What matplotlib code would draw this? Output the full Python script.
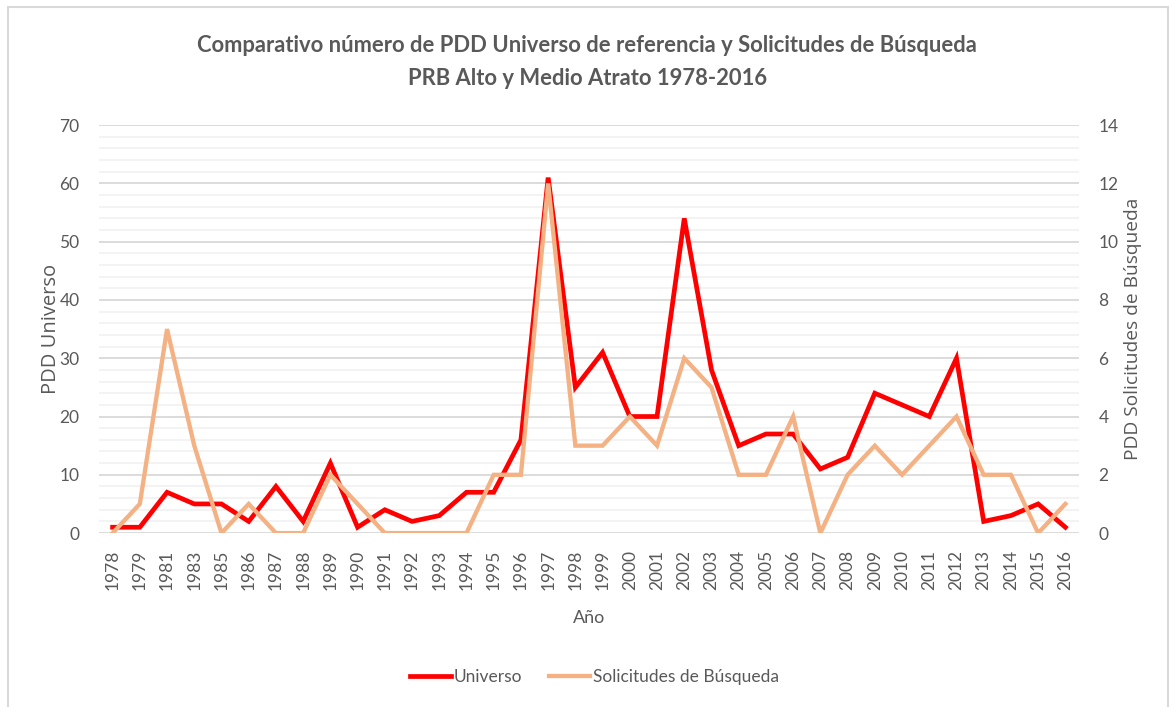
import matplotlib.pyplot as plt
from matplotlib.patches import Rectangle

plt.rcParams['font.family'] = ['Lato', 'DejaVu Sans']

years = ['1978', '1979', '1981', '1983', '1985', '1986', '1987', '1988', '1989',
         '1990', '1991', '1992', '1993', '1994', '1995', '1996', '1997', '1998',
         '1999', '2000', '2001', '2002', '2003', '2004', '2005', '2006', '2007',
         '2008', '2009', '2010', '2011', '2012', '2013', '2014', '2015', '2016']
universo = [1, 1, 7, 5, 5, 2, 8, 2, 12, 1, 4, 2, 3, 7, 7, 16, 61, 25, 31, 20,
            20, 54, 28, 15, 17, 17, 11, 13, 24, 22, 20, 30, 2, 3, 5, 1]
solicitudes = [0, 1, 7, 3, 0, 1, 0, 0, 2, 1, 0, 0, 0, 0, 2, 2, 12, 3, 3, 4,
               3, 6, 5, 2, 2, 4, 0, 2, 3, 2, 3, 4, 2, 2, 0, 1]

gray = '#595959'
red = '#FF0000'
orange = '#F4B183'

fig = plt.figure(figsize=(11.7, 7.07), dpi=100)
ax = fig.add_axes([0.0846, 0.246, 0.8376, 0.577])
ax2 = ax.twinx()

x = range(len(years))
l1, = ax.plot(x, universo, color=red, lw=3.4, solid_joinstyle='miter', zorder=3)
l2, = ax2.plot(x, solicitudes, color=orange, lw=3.1, solid_joinstyle='miter', zorder=2)

ax.set_xlim(-0.5, len(years) - 0.5)
ax.set_ylim(0, 70)
ax2.set_ylim(0, 14)
ax.set_yticks(range(0, 71, 10))
ax.set_yticks(range(0, 71, 2), minor=True)
ax2.set_yticks(range(0, 15, 2))
ax.set_xticks(list(x))
ax.set_xticklabels(years, rotation=90)

ax.grid(axis='y', which='major', color='#D9D9D9', lw=1.3)
ax.grid(axis='y', which='minor', color='#F2F2F2', lw=1.3)
ax.set_axisbelow(True)

for a in (ax, ax2):
    for s in a.spines.values():
        s.set_visible(False)
    a.tick_params(which='both', length=0, colors=gray, labelsize=12.5)
ax.tick_params(axis='x', labelsize=12.5, pad=12)
ax.tick_params(axis='y', pad=14)
ax2.tick_params(axis='y', pad=14)

axis_font = ['Open Sans', 'DejaVu Sans']
ax.set_xlabel('Año', color=gray, fontsize=13, labelpad=14)
ax.set_ylabel('PDD Universo', color=gray, fontsize=14.5, family=axis_font, labelpad=-1)
ax2.set_ylabel('PDD Solicitudes de Búsqueda', color=gray, fontsize=13.8,
               family=axis_font, labelpad=4)

fig.text(0.502, 0.935, 'Comparativo número de PDD Universo de referencia y Solicitudes de Búsqueda',
         ha='center', va='center', fontsize=15.8, fontweight='bold', color=gray)
fig.text(0.502, 0.889, 'PRB Alto y Medio Atrato 1978-2016',
         ha='center', va='center', fontsize=15.8, fontweight='bold', color=gray)

fig.legend([l1, l2], ['Universo', 'Solicitudes de Búsqueda'], loc='center',
           bbox_to_anchor=(0.508, 0.043), ncol=2, frameon=False, fontsize=12.5,
           labelcolor=gray, handlelength=2.4, handletextpad=0.15, columnspacing=1.5)

# chart frame
fig.patches.append(Rectangle((8 / 1170, -0.05), 1160 / 1170, 1.05 - 7 / 707,
                             transform=fig.transFigure, fill=False,
                             edgecolor='#D9D9D9', lw=1.5))

fig.savefig('out.png', dpi=100)
